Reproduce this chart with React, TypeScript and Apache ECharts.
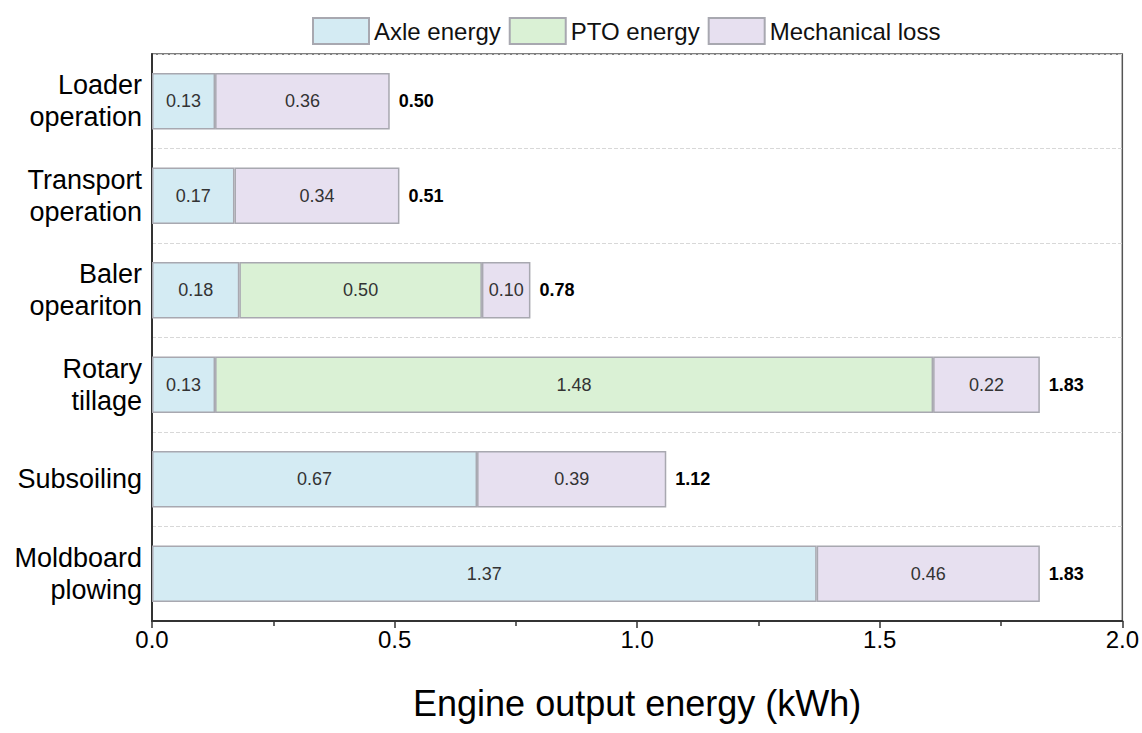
import React, { useEffect, useRef } from "react";
import * as echarts from "echarts";

const categories = [
  "Loader\noperation",
  "Transport\noperation",
  "Baler\nopeariton",
  "Rotary\ntillage",
  "Subsoiling",
  "Moldboard\nplowing",
];
const axleEnergy = [0.13, 0.17, 0.18, 0.13, 0.67, 1.37];
const ptoEnergy: (number | null)[] = [null, null, 0.5, 1.48, null, null];
const mechanicalLoss = [0.36, 0.34, 0.1, 0.22, 0.39, 0.46];
const totals = [0.5, 0.51, 0.78, 1.83, 1.12, 1.83];
const xTicks = [0, 0.5, 1.0, 1.5, 2.0];

const FONT = "'Liberation Sans', Arial, sans-serif";

export default function App() {
  const ref = useRef<HTMLDivElement>(null);
  useEffect(() => {
    if (!ref.current) return;
    const chart = echarts.init(ref.current, undefined, { renderer: "svg" });
    const segLabel = {
      show: true,
      position: "inside" as const,
      fontSize: 18,
      color: "#333",
      fontFamily: FONT,
      formatter: (p: any) => Number(p.value).toFixed(2),
    };
    const border = { borderColor: "#a8a8b0", borderWidth: 1.5 };
    chart.setOption({
      animation: false,
      textStyle: { fontFamily: FONT },
      legend: {
        data: [
          { name: "Axle energy", icon: "rect" },
          { name: "PTO energy", icon: "rect" },
          { name: "Mechanical loss", icon: "rect" },
        ],
        left: 307,
        top: 12,
        itemWidth: 56,
        itemHeight: 26,
        itemGap: 8,
        textStyle: { fontSize: 24, color: "#111", fontFamily: FONT },
      },
      grid: {
        left: 152,
        right: 14,
        top: 54,
        bottom: 112,
        show: true,
        borderColor: "#555",
        borderWidth: 1.5,
        backgroundColor: "transparent",
      },
      xAxis: {
        type: "value",
        min: xTicks[0],
        max: xTicks[xTicks.length - 1],
        interval: 0.5,
        name: "Engine output energy (kWh)",
        nameLocation: "middle",
        nameGap: 64,
        nameTextStyle: { fontSize: 36, color: "#000", fontFamily: FONT },
        axisLine: { show: true, lineStyle: { color: "#333", width: 2 } },
        axisTick: { show: true, inside: false, length: 7, lineStyle: { color: "#333", width: 1.5 } },
        minorTick: { show: true, splitNumber: 2, length: 5, lineStyle: { color: "#333", width: 1.5 } },
        axisLabel: {
          fontSize: 24,
          color: "#000",
          margin: 6,
          formatter: (v: number) => v.toFixed(1),
        },
        splitLine: { show: false },
      },
      yAxis: {
        type: "category",
        data: categories,
        inverse: true,
        axisLine: { show: true, lineStyle: { color: "#333", width: 2 } },
        axisTick: { show: false },
        axisLabel: {
          fontSize: 27,
          color: "#000",
          margin: 10,
          lineHeight: 32,
          align: "right",
        },
        splitLine: {
          show: true,
          interval: 0,
          lineStyle: { color: "#d8d8d8", type: "dashed", width: 1 },
        },
      },
      series: [
        {
          name: "Axle energy",
          type: "bar",
          stack: "total",
          barWidth: "60%",
          data: axleEnergy,
          itemStyle: { color: "#d4ebf3", ...border },
          label: segLabel,
        },
        {
          name: "PTO energy",
          type: "bar",
          stack: "total",
          data: ptoEnergy,
          itemStyle: { color: "#daf1d5", ...border },
          label: segLabel,
        },
        {
          name: "Mechanical loss",
          type: "bar",
          stack: "total",
          data: mechanicalLoss,
          itemStyle: { color: "#e7e0f0", ...border },
          label: segLabel,
        },
        {
          name: "Total",
          type: "bar",
          stack: "total",
          data: totals.map(() => 0),
          itemStyle: { color: "transparent", borderWidth: 0 },
          label: {
            show: true,
            position: "right",
            distance: 9,
            fontSize: 18,
            fontWeight: "bold",
            color: "#000",
            fontFamily: FONT,
            formatter: (p: any) => totals[p.dataIndex].toFixed(2),
          },
        },
      ],
    });
    return () => chart.dispose();
  }, []);
  return (
    <div
      ref={ref}
      style={{ position: "fixed", left: 0, top: 0, width: 1142, height: 733, background: "#fff" }}
    />
  );
}
